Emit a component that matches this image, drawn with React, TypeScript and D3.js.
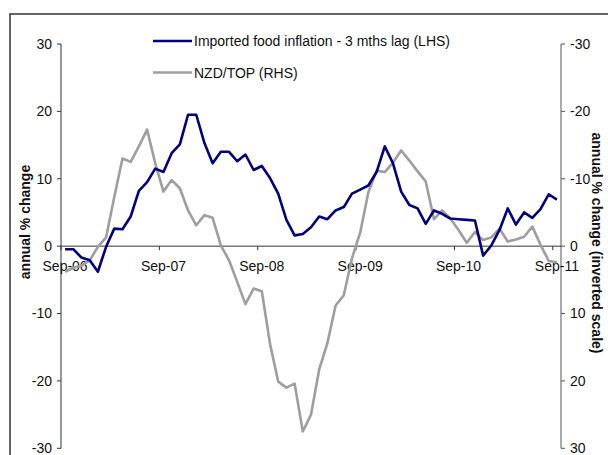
import React from "react";
import * as d3 from "d3";

// ---- data ----
const months: Date[] = d3.timeMonth.range(new Date(2006, 8, 1), new Date(2011, 9, 1));
const categories: string[] = months.map((d) => d3.timeFormat("%b-%y")(d));

const xTickLabels = ["Sep-06", "Sep-07", "Sep-08", "Sep-09", "Sep-10", "Sep-11"];
const leftTicks = [30, 20, 10, 0, -10, -20, -30];
const rightTicks = [-30, -20, -10, 0, 10, 20, 30];

// Imported food inflation - 3 mths lag (LHS)
const foodInflation = [
  -0.45, -0.45, -1.7, -2.1, -3.8, -0.1, 2.6, 2.5, 4.4, 8.2, 9.5, 11.5,
  11.0, 13.8, 15.1, 19.5, 19.5, 15.3, 12.3, 14.0, 14.0, 12.6, 13.6, 11.3,
  11.9, 10.1, 7.8, 3.9, 1.6, 1.8, 2.8, 4.4, 4.0, 5.3, 5.8, 7.8,
  8.4, 9.0, 11.0, 14.8, 12.3, 8.1, 6.1, 5.6, 3.3, 5.3, 4.8, 4.1,
  4.0, 3.9, 3.8, -1.4, 0.1, 2.4, 5.6, 3.2, 5.0, 4.2, 5.5, 7.7,
  6.9,
];

// NZD/TOP (RHS, inverted scale)
const nzdTop = [
  3.8, 3.2, 2.9, 2.1, 0.1, -1.3, -7.3, -13.0, -12.5, -14.8, -17.3, -12.3,
  -8.1, -9.8, -8.6, -5.3, -3.1, -4.6, -4.2, -0.1, 2.1, 5.3, 8.6, 6.3,
  6.7, 14.5, 20.1, 21.0, 20.4, 27.5, 25.0, 18.3, 14.4, 8.8, 7.3, 1.8,
  -2.0, -8.0, -11.2, -11.0, -12.4, -14.2, -12.7, -11.1, -9.6, -4.0, -5.3, -4.1,
  -2.4, -0.5, -2.1, -0.9, -1.3, -2.6, -0.7, -1.0, -1.4, -2.9, -0.2, 2.2,
  2.4,
];

const seriesNames = ["Imported food inflation - 3 mths lag (LHS)", "NZD/TOP (RHS)"];

export default function App() {
  const W = 608;
  const H = 455;
  const left = 61;
  const right = 561;
  const top = 44;
  const bottom = 448.3;

  const x = d3.scaleBand<string>().domain(categories).range([left, right]).padding(0);
  const bw = x.bandwidth();
  const cx = (i: number) => (x(categories[i]) as number) + bw / 2;
  const yL = d3.scaleLinear().domain([-30, 30]).range([bottom, top]);
  const yR = d3.scaleLinear().domain([-30, 30]).range([top, bottom]);

  const lineL = d3
    .line<number>()
    .x((_, i) => cx(i))
    .y((d) => yL(d));
  const lineR = d3
    .line<number>()
    .x((_, i) => cx(i))
    .y((d) => yR(d));

  const font = "'Liberation Sans', Arial, Helvetica, sans-serif";
  const y0 = yL(0);
  const blue = "#000080";
  const gray = "#9e9e9e";
  const fs = 14;

  return (
    <svg
      width={W}
      height={H}
      style={{ position: "absolute", left: 0, top: 0, background: "#fff" }}
      fontFamily={font}
    >
      <rect x={0} y={0} width={W} height={H} fill="#fff" />
      <rect x={10} y={14} width={640} height={480} fill="none" stroke="#333" strokeWidth={1.5} />

      {/* left axis */}
      <line x1={left} x2={left} y1={top} y2={bottom} stroke="#333" strokeWidth={1} />
      {leftTicks.map((t) => (
        <g key={"l" + t}>
          <line x1={left - 4} x2={left} y1={yL(t)} y2={yL(t)} stroke="#333" />
          <text x={52} y={yL(t)} dy="0.35em" textAnchor="end" fontSize={fs} fill="#111">
            {t}
          </text>
        </g>
      ))}

      {/* right axis */}
      <line x1={right} x2={right} y1={top} y2={bottom} stroke="#555" strokeWidth={1} />
      {rightTicks.map((t) => (
        <g key={"r" + t}>
          <line x1={right} x2={right + 4} y1={yR(t)} y2={yR(t)} stroke="#555" />
          <text x={570} y={yR(t)} dy="0.35em" textAnchor="start" fontSize={fs} fill="#111">
            {t}
          </text>
        </g>
      ))}

      {/* x axis */}
      <line x1={left} x2={right} y1={y0} y2={y0} stroke="#333" strokeWidth={1} />
      {xTickLabels.map((lab) => {
        const xs = x(lab) as number;
        return (
          <g key={lab}>
            <line x1={xs} x2={xs} y1={y0} y2={y0 + 4} stroke="#333" />
            <text x={xs + bw / 2} y={271} textAnchor="middle" fontSize={fs} fill="#111">
              {lab}
            </text>
          </g>
        );
      })}

      {/* series */}
      <path d={lineR(nzdTop) || ""} fill="none" stroke={gray} strokeWidth={2.6} strokeLinejoin="round" />
      <path d={lineL(foodInflation) || ""} fill="none" stroke={blue} strokeWidth={2.6} strokeLinejoin="round" />

      {/* axis titles */}
      <text
        transform={`translate(30,222) rotate(-90)`}
        textAnchor="middle"
        fontSize={fs}
        fontWeight="bold"
        fill="#111"
      >
        annual % change
      </text>
      <text
        transform={`translate(592,243) rotate(90)`}
        textAnchor="middle"
        fontSize={fs}
        fontWeight="bold"
        fill="#111"
      >
        annual % change (inverted scale)
      </text>

      {/* legend */}
      <line x1={153} x2={192} y1={41} y2={41} stroke={blue} strokeWidth={2.6} />
      <text x={194} y={46} fontSize={fs} fill="#111">
        {seriesNames[0]}
      </text>
      <line x1={153} x2={192} y1={72.5} y2={72.5} stroke={gray} strokeWidth={2.6} />
      <text x={194} y={77.5} fontSize={fs} fill="#111">
        {seriesNames[1]}
      </text>
    </svg>
  );
}
